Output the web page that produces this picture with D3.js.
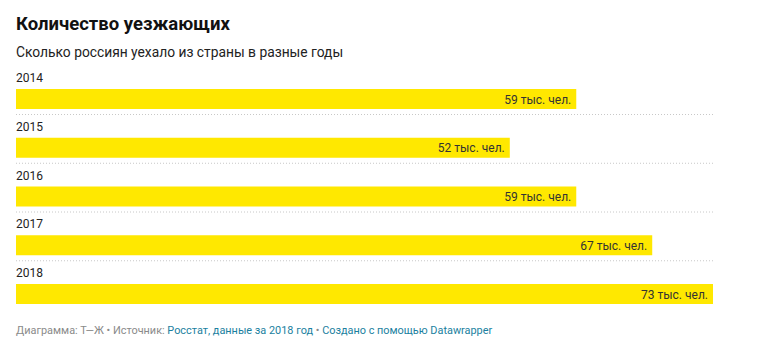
<!DOCTYPE html>
<html>
<head>
<meta charset="utf-8">
<script src="https://cdn.jsdelivr.net/npm/d3@7"></script>
<style>
  body { margin: 0; background: #fff; font-family: Roboto, "Noto Sans", sans-serif; }
</style>
</head>
<body>
<svg id="chart"></svg>
<script>
// data
const years = ["2014", "2015", "2016", "2017", "2018"];
const values = [59.0, 52.0, 59.0, 67.0, 73.4]; // thousand people
const valueLabels = ["59 тыс. чел.", "52 тыс. чел.", "59 тыс. чел.", "67 тыс. чел.", "73 тыс. чел."];

const width = 768, height = 354;
const svg = d3.select("#chart").attr("width", width).attr("height", height);

const x = d3.scaleLinear().domain([0, d3.max(values)]).range([16, 713]);
const rowY = d3.scaleBand().domain(years).range([65, 65 + 48.75 * years.length]).padding(0);

// title + subtitle
svg.append("text")
  .attr("x", 16).attr("y", 30)
  .style("font-size", "18.5px").style("font-weight", "700").style("fill", "#111")
  .text("Количество уезжающих");

svg.append("text")
  .attr("x", 16).attr("y", 57)
  .style("font-size", "13.8px").style("fill", "#222")
  .text("Сколько россиян уехало из страны в разные годы");

const rows = svg.selectAll("g.row")
  .data(years.map((y, i) => ({ year: y, value: values[i], label: valueLabels[i], i })))
  .enter().append("g")
  .attr("class", "row")
  .attr("transform", d => `translate(0,${rowY(d.year)})`);

rows.append("text")
  .attr("x", 16).attr("y", 17)
  .style("font-size", "12px").style("fill", "#222")
  .text(d => d.year);

rows.append("rect")
  .attr("x", x(0)).attr("y", 24)
  .attr("width", d => x(d.value) - x(0))
  .attr("height", 20)
  .style("fill", "#ffe800");

rows.append("text")
  .attr("x", d => x(d.value) - 5).attr("y", 38.5)
  .style("text-anchor", "end")
  .style("font-size", "12px").style("fill", "#333")
  .text(d => d.label);

// dotted separators between rows
rows.filter(d => d.i < years.length - 1).append("line")
  .attr("x1", 16).attr("x2", 713)
  .attr("y1", 49.5).attr("y2", 49.5)
  .style("stroke", "#c8c8c8")
  .style("stroke-width", 1)
  .style("stroke-dasharray", "1,2");

// footer
const foot = svg.append("text")
  .attr("x", 16).attr("y", 334)
  .style("font-size", "10.9px");
foot.append("tspan").style("fill", "#8a8a8a").text("Диаграмма: Т—Ж • Источник: ");
foot.append("tspan").style("fill", "#1b7fa0").text("Росстат, данные за 2018 год");
foot.append("tspan").style("fill", "#8a8a8a").text(" • ");
foot.append("tspan").style("fill", "#1b7fa0").text("Создано с помощью Datawrapper");
</script>
</body>
</html>
